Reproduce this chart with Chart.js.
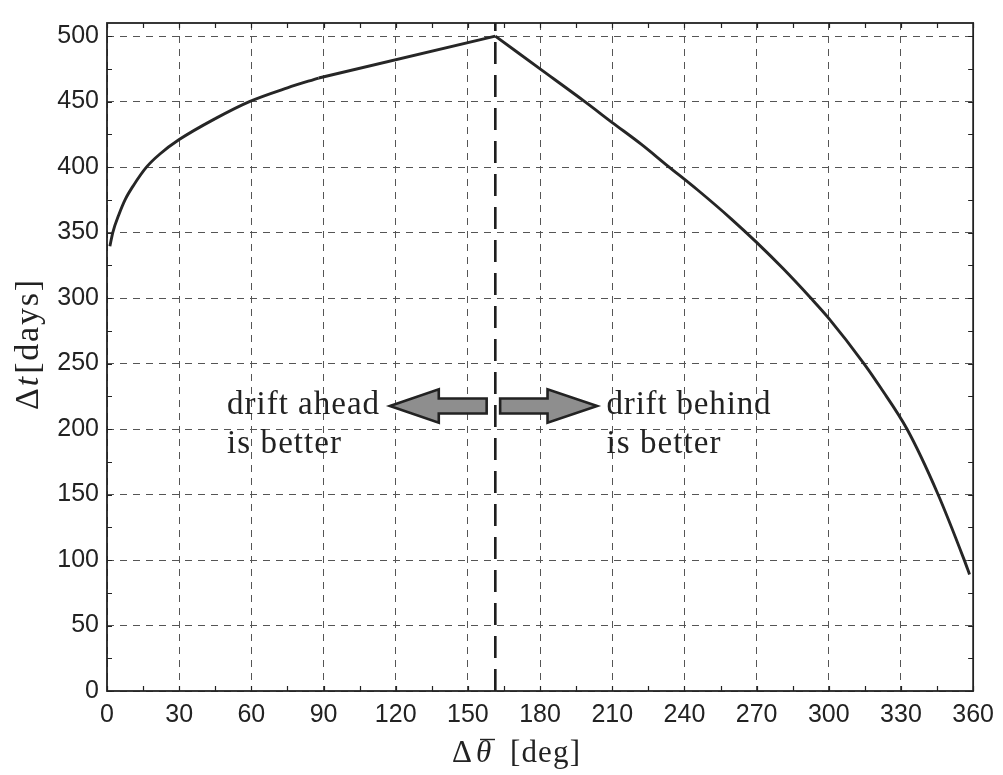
<!DOCTYPE html>
<html>
<head>
<meta charset="utf-8">
<script src="https://cdn.jsdelivr.net/npm/chart.js@4/dist/chart.umd.min.js"></script>
<style>
  html, body { margin: 0; padding: 0; background: #ffffff; }
  #wrap { width: 1003px; height: 775px; }
</style>
</head>
<body>
<div id="wrap"><canvas id="c" width="1003" height="775"></canvas></div>
<script>
// ---- data ----
// rising branch (drift ahead side)
const thetaRise = [1.2, 2.4, 5, 7.5, 11, 16.4, 22, 30, 45, 59.2, 75, 88];
const dtRise    = [339.6, 350, 364, 375, 386, 400, 410, 421, 437, 450, 460.5, 468];
// straight segment up to the peak
const thetaPeak = [88, 161.4];
const dtPeak    = [468, 500];
// falling branch (drift behind side)
const thetaFall = [161.4, 180, 198.6, 210, 222, 233, 245.5, 259.3, 270, 281, 292.5, 300, 314.6, 321.5, 332.5, 345.2, 356.2, 358.5];
const dtFall    = [500, 475, 450, 434, 417.5, 401, 382.5, 360.7, 342.5, 322.5, 300, 284.5, 250, 231.7, 200, 151, 100.5, 89];

const dividerTheta = 161.4;
const xTicks = [0, 30, 60, 90, 120, 150, 180, 210, 240, 270, 300, 330, 360];
const yTicks = [0, 50, 100, 150, 200, 250, 300, 350, 400, 450, 500];
const xMinorStep = 15;
const yMinorStep = 25;
const xRange = [0, 360];
const yRange = [0, 510];
const annotationLabels = [["drift ahead", "is better"], ["drift behind", "is better"]];
// annotation anchors in data units (theta, days)
const leftArrow  = { tip: 117.6, headBase: 137.9, tail: 157.8, mid: 217.6, headHalf: 12.8, shaftHalf: 5.7 };
const rightArrow = { tip: 203.7, headBase: 183.1, tail: 163.4, mid: 217.6, headHalf: 12.8, shaftHalf: 5.7 };
const textAnchors = [{ x: 49.9, y1: 211.8, y2: 182.0, w1: 152, w2: 114 },
                     { x: 207.6, y1: 211.8, y2: 182.0, w1: 164, w2: 114 }];

const INK = '#222222';
const SERIF = '"Liberation Serif", "Times New Roman", serif';

function fitText(ctx, str, x, y, width, font) {
  ctx.font = font;
  ctx.letterSpacing = '0px';
  const w = ctx.measureText(str).width;
  const ls = width && str.length > 1 ? (width - w) / (str.length - 1) : 0;
  ctx.letterSpacing = ls.toFixed(2) + 'px';
  ctx.fillText(str, x, y);
  ctx.letterSpacing = '0px';
}

const decor = {
  id: 'decor',
  afterDraw(chart) {
    const { ctx, chartArea: a, scales: { x, y } } = chart;
    ctx.save();
    // inward tick marks on all four sides
    ctx.strokeStyle = INK;
    ctx.lineWidth = 1.2;
    ctx.beginPath();
    for (let v = xRange[0]; v <= xRange[1]; v += xMinorStep) {
      const px = Math.round(x.getPixelForValue(v)) + 0.5;
      ctx.moveTo(px, a.bottom); ctx.lineTo(px, a.bottom - 5);
      ctx.moveTo(px, a.top); ctx.lineTo(px, a.top + 5);
    }
    for (let v = yRange[0]; v <= yRange[1]; v += yMinorStep) {
      const py = Math.round(y.getPixelForValue(v)) + 0.5;
      ctx.moveTo(a.left, py); ctx.lineTo(a.left + 5, py);
      ctx.moveTo(a.right, py); ctx.lineTo(a.right - 5, py);
    }
    ctx.stroke();
    // frame
    ctx.lineWidth = 1.8;
    ctx.strokeRect(a.left, a.top, a.right - a.left, a.bottom - a.top);

    // arrows
    function arrow(d) {
      const X = v => x.getPixelForValue(v), Y = v => y.getPixelForValue(v);
      ctx.beginPath();
      ctx.moveTo(X(d.tip), Y(d.mid));
      ctx.lineTo(X(d.headBase), Y(d.mid + d.headHalf));
      ctx.lineTo(X(d.headBase), Y(d.mid + d.shaftHalf));
      ctx.lineTo(X(d.tail), Y(d.mid + d.shaftHalf));
      ctx.lineTo(X(d.tail), Y(d.mid - d.shaftHalf));
      ctx.lineTo(X(d.headBase), Y(d.mid - d.shaftHalf));
      ctx.lineTo(X(d.headBase), Y(d.mid - d.headHalf));
      ctx.closePath();
      ctx.fillStyle = '#8e8e8e';
      ctx.fill();
      ctx.lineWidth = 2.6;
      ctx.lineJoin = 'miter';
      ctx.strokeStyle = INK;
      ctx.stroke();
    }
    arrow(leftArrow);
    arrow(rightArrow);

    // annotation text
    ctx.fillStyle = INK;
    ctx.textBaseline = 'alphabetic';
    ctx.textAlign = 'left';
    const sfont = '33px ' + SERIF;
    textAnchors.forEach((t, i) => {
      const px = x.getPixelForValue(t.x);
      fitText(ctx, annotationLabels[i][0], px, y.getPixelForValue(t.y1), t.w1, sfont);
      fitText(ctx, annotationLabels[i][1], px, y.getPixelForValue(t.y2), t.w2, sfont);
    });

    // x-axis title:  Δθ̄ [deg]
    const xb = 762;
    ctx.font = '31px ' + SERIF;
    ctx.fillText('Δ', 452, xb);
    ctx.font = 'italic 31px ' + SERIF;
    ctx.fillText('θ', 476, xb);
    ctx.beginPath();
    ctx.lineWidth = 1.4;
    ctx.moveTo(480, 739.5); ctx.lineTo(495, 739.5);
    ctx.stroke();
    fitText(ctx, '[deg]', 510, xb, 70, '31px ' + SERIF);

    // y-axis title:  Δt[days]
    ctx.save();
    ctx.translate(38, 410);
    ctx.rotate(-Math.PI / 2);
    ctx.font = '34px ' + SERIF;
    ctx.fillText('Δ', 0, 0);
    const dW = ctx.measureText('Δ').width;
    ctx.font = 'italic 34px ' + SERIF;
    ctx.fillText('t', dW + 2, 0);
    const tW = ctx.measureText('t').width;
    const start = dW + 2 + tW + 3;
    fitText(ctx, '[days]', start, 0, 130 - start, '34px ' + SERIF);
    ctx.restore();

    ctx.restore();
  }
};

const toPts = (xs, ys) => xs.map((t, i) => ({ x: t, y: ys[i] }));
const divider = [{ x: dividerTheta, y: yRange[0] }, { x: dividerTheta, y: yRange[1] }];
const lineStyle = { borderColor: '#262626', borderWidth: 2.9, pointRadius: 0, fill: false };

new Chart(document.getElementById('c'), {
  type: 'line',
  data: {
    datasets: [
      Object.assign({ data: toPts(thetaRise, dtRise), cubicInterpolationMode: 'monotone' }, lineStyle),
      Object.assign({ data: toPts(thetaPeak, dtPeak), tension: 0 }, lineStyle),
      Object.assign({ data: toPts(thetaFall, dtFall), cubicInterpolationMode: 'monotone' }, lineStyle),
      { data: divider, borderColor: '#1e1e1e', borderWidth: 2.6, borderDash: [22, 11], pointRadius: 0, fill: false }
    ]
  },
  options: {
    responsive: false,
    animation: false,
    events: [],
    layout: { padding: { top: 7, right: 27, left: 0, bottom: 0 } },
    plugins: { legend: { display: false }, tooltip: { enabled: false }, title: { display: false } },
    scales: {
      x: {
        type: 'linear', min: xRange[0], max: xRange[1],
        afterBuildTicks: s => { s.ticks = xTicks.map(v => ({ value: v })); },
        afterFit: s => { s.height = 84; },
        grid: { color: '#555555', lineWidth: 1, drawTicks: false },
        border: { display: false, dash: [7, 6] },
        ticks: { padding: 9, color: INK, maxRotation: 0, autoSkip: false,
                 font: { family: '"Liberation Sans", Arial, sans-serif', size: 25 } }
      },
      y: {
        type: 'linear', min: yRange[0], max: yRange[1],
        afterBuildTicks: s => { s.ticks = yTicks.map(v => ({ value: v })); },
        afterFit: s => { s.width = 107; },
        grid: { color: '#555555', lineWidth: 1, drawTicks: false },
        border: { display: false, dash: [7, 6] },
        ticks: { padding: 8, color: INK, autoSkip: false,
                 font: { family: '"Liberation Sans", Arial, sans-serif', size: 25 } }
      }
    }
  },
  plugins: [decor]
});
</script>
</body>
</html>
